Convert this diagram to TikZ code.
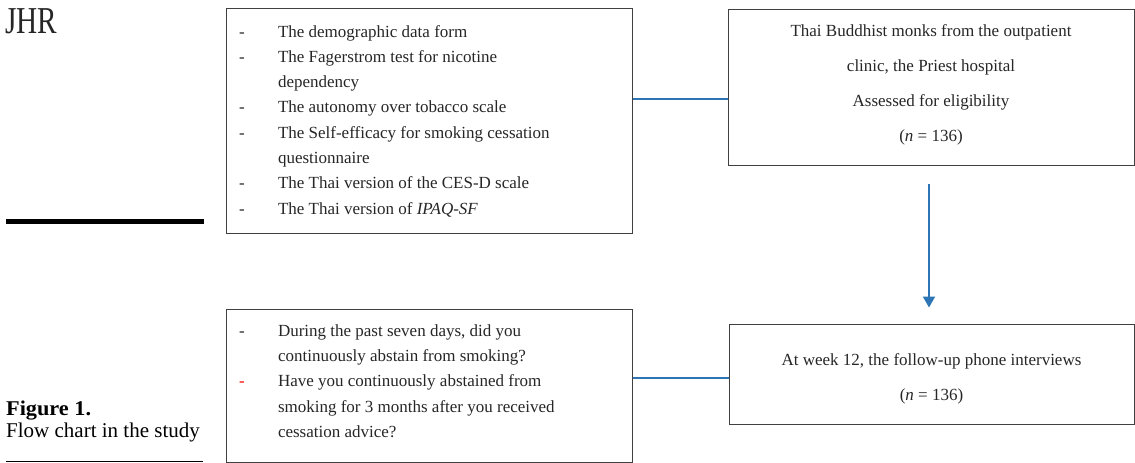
\documentclass[tikz,border=0pt]{standalone}
\usepackage{fontspec}
\setmainfont{Liberation Serif}
\usepackage{array}
\usetikzlibrary{arrows.meta}

\definecolor{lineblue}{HTML}{2E75B6}
\definecolor{boxgray}{HTML}{404040}

\begin{document}
\begin{tikzpicture}[x=1pt,y=-1pt,
	box/.style={draw=boxgray, line width=1pt, inner sep=0pt, text=black!85},
	link/.style={draw=lineblue, line width=2pt}]

	\useasboundingbox (0,0) rectangle (1135,463);

	% left margin
	\node[anchor=base west, inner sep=0pt, text=black!85] (jhr) at (5,33)
		{\scalebox{0.77}[1]{\fontsize{38}{40}\selectfont JHR}};
	\draw[line width=5pt] (6,221) -- (204,221);
	\node[anchor=base west, inner sep=0pt, font=\fontsize{21}{22}\selectfont\bfseries] (figlabel) at (6,415)
		{\scalebox{1.06}[1]{Figure 1.}};
	\node[anchor=base west, inner sep=0pt, font=\fontsize{21}{22}\selectfont] (figtitle) at (6,437) {Flow chart in the study};
	\draw[line width=1.2pt] (6,461.5) -- (203,461.5);

	% boxes
	\node[box, minimum width=406pt, minimum height=225pt] (tools) at (429,120.5)
		{\fontsize{17}{25.3}\selectfont
		\begin{tabular}{@{}p{39pt}@{}p{341pt}@{}}
			- & The demographic data form\\
			- & The Fagerstrom test for nicotine\newline dependency\\
			- & The autonomy over tobacco scale\\
			- & The Self-efficacy for smoking cessation\newline questionnaire\\
			- & The Thai version of the CES-D scale\\
			- & The Thai version of \textit{IPAQ-SF}\\
		\end{tabular}};
	\node[box, minimum width=406pt, minimum height=156pt, align=center,
		font=\fontsize{17}{35}\selectfont] (monks) at (931,87)
		{Thai Buddhist monks from the outpatient\\ clinic, the Priest hospital\\
		 Assessed for eligibility\\ (\textit{n} = 136)\rule[-8pt]{0pt}{1pt}};
	\node[box, minimum width=405pt, minimum height=100pt, align=center,
		font=\fontsize{17}{35}\selectfont] (phone) at (931.5,374)
		{\rule{0pt}{21pt}At week 12, the follow-up phone interviews\\ (\textit{n} = 136)};
	\node[box, minimum width=406pt, minimum height=153pt] (questions) at (429,385.5)
		{\fontsize{17}{25.3}\selectfont
		\begin{tabular}{@{}p{39pt}@{}p{341pt}@{}}
			- & During the past seven days, did you\newline continuously abstain from smoking?\\
			\textcolor{red}{-} & Have you continuously abstained from\newline smoking for 3 months after you received\newline cessation advice?\rule[-15pt]{0pt}{1pt}\\
		\end{tabular}};

	% connectors
	\draw[link] (tools.east |- 0,99) -- (monks.west |- 0,99);
	\draw[link] (questions.east |- 0,378) -- (phone.west |- 0,378);
	\draw[link, shorten <=18pt, shorten >=16pt, -{Triangle[width=12pt,length=11pt]}]
		(monks.south -| 929,0) -- (phone.north -| 929,0);

\end{tikzpicture}
\end{document}
